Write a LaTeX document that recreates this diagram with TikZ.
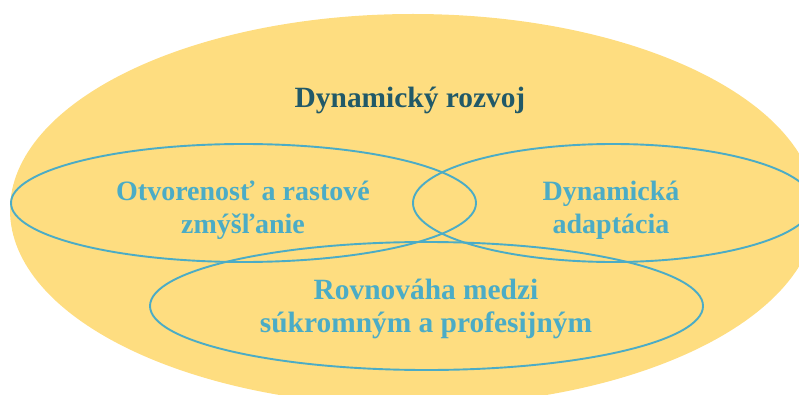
\documentclass[tikz,border=0pt]{standalone}
\usepackage{fontspec}
\setmainfont{Liberation Serif}
\usetikzlibrary{shapes.geometric}
\definecolor{goldfill}{HTML}{FEDD80}
\definecolor{ringblue}{HTML}{4BACC6}
\definecolor{titleteal}{HTML}{215968}
\tikzset{
  bigoval/.style={ellipse, fill=goldfill, draw=none, inner sep=0pt},
  ring/.style={ellipse, draw=ringblue, line width=1.9pt, inner sep=0pt},
  lbl/.style={font=\bfseries\fontsize{28}{32.5}\selectfont, text=ringblue, align=center, anchor=base, inner sep=0pt},
  lblbig/.style={lbl, font=\bfseries\fontsize{29.4}{33}\selectfont},
  ttl/.style={font=\bfseries\fontsize{29.4}{34}\selectfont, text=titleteal, anchor=base, inner sep=0pt}
}
\begin{document}
\begin{tikzpicture}[x=1pt,y=1pt]
\useasboundingbox (0,0) rectangle (799,394);
\begin{scope}
\clip (0,0) rectangle (799,394);
\node[bigoval, minimum width=806pt, minimum height=392pt] (big) at (413,184) {};
\node[ring, minimum width=465pt, minimum height=118pt] (e1) at (243.5,191) {};
\node[ring, minimum width=400pt, minimum height=118pt] (e2) at (613,191) {};
\node[ring, minimum width=553pt, minimum height=128pt] (e3) at (426.5,88) {};
\end{scope}
\node[ttl] (title) at (410,286) {Dynamický rozvoj};
\node[lbl] (t1) at (243,161) {Otvorenosť a rastové\\zmýšľanie};
\node[lbl] (t2) at (611,161) {Dynamická\\adaptácia};
\node[lblbig] (t3) at (426,62) {Rovnováha medzi\\súkromným a profesijným};
\end{tikzpicture}
\end{document}
